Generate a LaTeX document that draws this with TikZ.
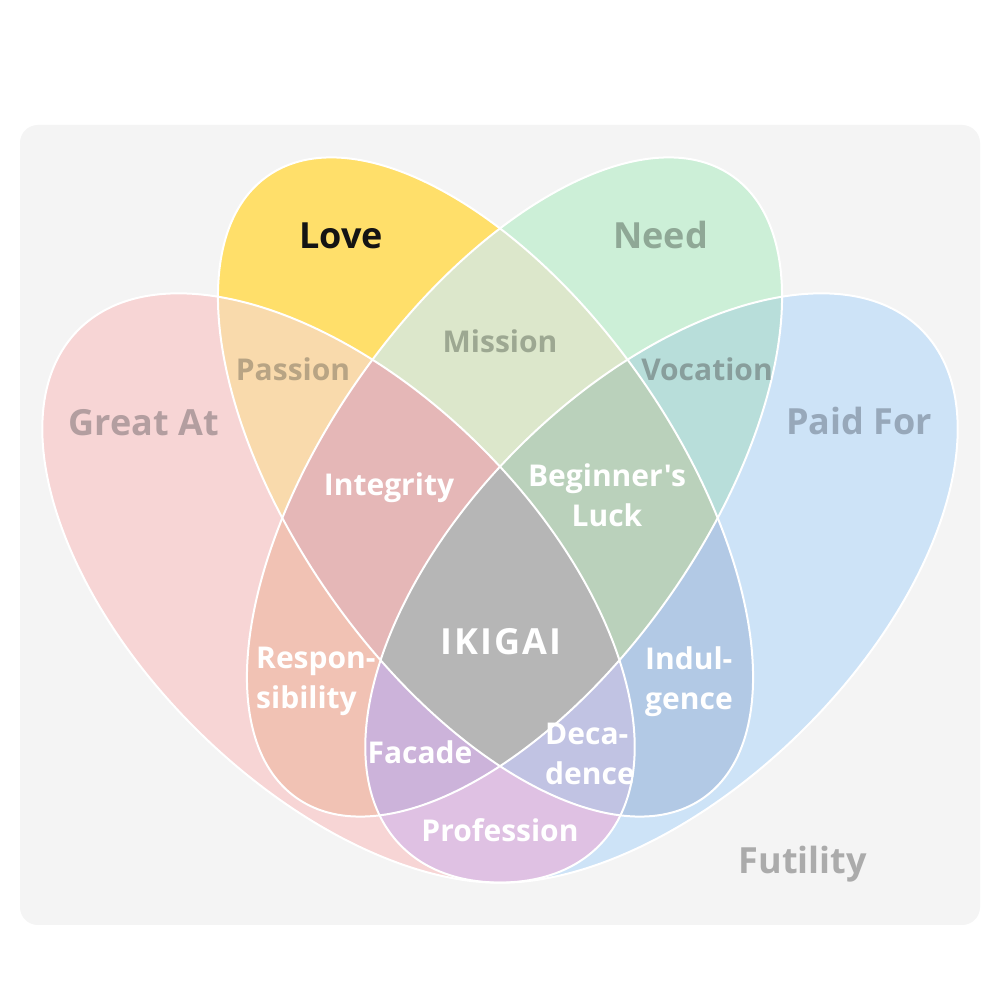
\documentclass[tikz,border=0pt]{standalone}
\usepackage{fontspec}
\newfontfamily\labfont{Open Sans}
\definecolor{bgc}{HTML}{F4F4F4}
\definecolor{cL}{HTML}{FFDF6A}
\definecolor{cN}{HTML}{CCEFD7}
\definecolor{cG}{HTML}{F7D5D5}
\definecolor{cP}{HTML}{CDE3F7}
\definecolor{cLN}{HTML}{DCE7CB}
\definecolor{cLG}{HTML}{F9DAAC}
\definecolor{cNP}{HTML}{B8DEDA}
\definecolor{cGP}{HTML}{DFC1E3}
\definecolor{cLP}{HTML}{B2C9E5}
\definecolor{cNG}{HTML}{F1C2B4}
\definecolor{cLNG}{HTML}{E5B7B7}
\definecolor{cLNP}{HTML}{BAD1BB}
\definecolor{cNGP}{HTML}{CCB3DA}
\definecolor{cLGP}{HTML}{C1C3E3}
\definecolor{cALL}{HTML}{B6B6B6}
\definecolor{tLove}{HTML}{141414}
\definecolor{tNeed}{HTML}{8FA896}
\definecolor{tGreat}{HTML}{B39EA0}
\definecolor{tPaid}{HTML}{97A8BA}
\definecolor{tPassion}{HTML}{B8A484}
\definecolor{tMission}{HTML}{9DA892}
\definecolor{tVocation}{HTML}{889E9C}
\definecolor{tFutility}{HTML}{ABABAB}
\newcommand\eL{(485.5,513) ellipse [x radius=379.7pt, y radius=189.7pt]}
\newcommand\eN{(514.5,513) ellipse [x radius=379.7pt, y radius=189.7pt]}
\newcommand\eG{(338.5,412) ellipse [x radius=366.5pt, y radius=200.5pt]}
\newcommand\eP{(661.5,412) ellipse [x radius=366.5pt, y radius=200.5pt]}
\tikzset{
  rL/.style={rotate around={-55:(485.5,513)}},
  rN/.style={rotate around={55:(514.5,513)}},
  rG/.style={rotate around={-44.72:(338.5,412)}},
  rP/.style={rotate around={44.72:(661.5,412)}},
  outline/.style={draw=white, line width=2pt},
  cat/.style={font=\labfont\fontsize{36}{44}\selectfont\bfseries, anchor=base, inner sep=0pt},
  reg/.style={font=\labfont\fontsize{30}{40}\selectfont\bfseries, anchor=base, inner sep=0pt},
  regml/.style={font=\labfont\fontsize{30}{40}\selectfont\bfseries, anchor=base west, align=left, inner sep=0pt, text=white},
  big/.style={font=\labfont\addfontfeature{LetterSpace=6}\fontsize{36}{42}\selectfont\bfseries, anchor=base, inner sep=0pt, text=white}
}
\begin{document}
\begin{tikzpicture}[x=1pt,y=1pt]
\useasboundingbox (0,0) rectangle (1000,1000);
\fill[white] (0,0) rectangle (1000,1000);
\fill[bgc, rounded corners=18pt] (20,75) rectangle (980,875);
% single sets
\fill[cG, rG] \eG;
\fill[cP, rP] \eP;
\fill[cL, rL] \eL;
\fill[cN, rN] \eN;
% pairs
\begin{scope}\clip[rL] \eL; \fill[cLN, rN] \eN; \end{scope}
\begin{scope}\clip[rL] \eL; \fill[cLG, rG] \eG; \end{scope}
\begin{scope}\clip[rN] \eN; \fill[cNP, rP] \eP; \end{scope}
\begin{scope}\clip[rG] \eG; \fill[cGP, rP] \eP; \end{scope}
\begin{scope}\clip[rL] \eL; \fill[cLP, rP] \eP; \end{scope}
\begin{scope}\clip[rN] \eN; \fill[cNG, rG] \eG; \end{scope}
% triples
\begin{scope}\clip[rL] \eL; \clip[rN] \eN; \fill[cLNG, rG] \eG; \end{scope}
\begin{scope}\clip[rL] \eL; \clip[rN] \eN; \fill[cLNP, rP] \eP; \end{scope}
\begin{scope}\clip[rN] \eN; \clip[rG] \eG; \fill[cNGP, rP] \eP; \end{scope}
\begin{scope}\clip[rL] \eL; \clip[rG] \eG; \fill[cLGP, rP] \eP; \end{scope}
% all four
\begin{scope}\clip[rL] \eL; \clip[rN] \eN; \clip[rG] \eG; \fill[cALL, rP] \eP; \end{scope}
% outlines
\draw[outline, rG] \eG;
\draw[outline, rP] \eP;
\draw[outline, rL] \eL;
\draw[outline, rN] \eN;
% labels
\node[cat, text=tLove] (love) at (341,751) {Love};
\node[cat, text=tNeed] (need) at (660.5,751) {Need};
\node[cat, text=tGreat] (great) at (144,564) {Great At};
\node[cat, text=tPaid] (paid) at (859,565) {Paid For};
\node[reg, text=tPassion] (passion) at (293,619) {Passion};
\node[reg, text=tMission] (mission) at (500,647) {Mission};
\node[reg, text=tVocation] (vocation) at (707,619) {Vocation};
\node[reg, text=white] (integrity) at (389,504) {Integrity};
\node[reg, text=white, align=center] (luck) at (607,473) {Beginner's\\Luck};
\node[big] (ikigai) at (501,345) {IKIGAI};
\node[regml] (resp) at (256,291) {Respon-\\sibility};
\node[regml] (indul) at (645,290) {Indul-\\gence};
\node[reg, text=white] (facade) at (420,236) {Facade};
\node[regml] (deca) at (545,215) {Deca-\\dence};
\node[reg, text=white] (prof) at (500,158) {Profession};
\node[cat, text=tFutility] (futility) at (803,126) {Futility};
\end{tikzpicture}
\end{document}
